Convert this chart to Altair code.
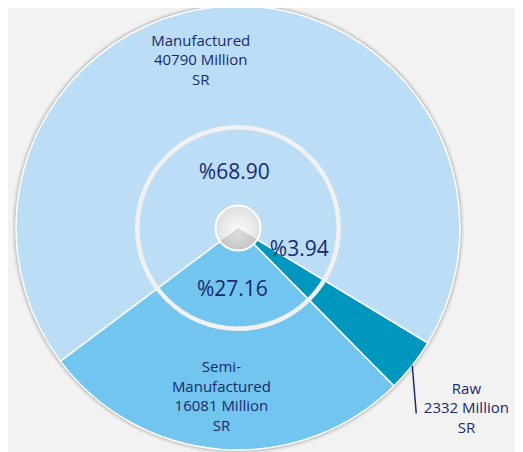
import math
import altair as alt
import pandas as pd

# ---- data ----
categories = ["Raw", "Semi-Manufactured", "Manufactured"]
values = [2332, 16081, 40790]          # Million SR
order_idx = [0, 1, 2]
colors = ["#0097bf", "#72c5ef", "#bbdef6"]

NAVY = "#1a2a6c"
FONT = "Open Sans"
START = math.radians(121.2)
TOTAL = sum(values)

labels = [c.replace("-", "-\n") + f"\n{v} Million\nSR" for c, v in zip(categories, values)]

df = pd.DataFrame({"category": categories, "value": values, "idx": order_idx, "label": labels})

theta_scale = alt.Scale(domain=[0, TOTAL], range=[START, START + 2 * math.pi], nice=False, zero=False)

base = (
    alt.Chart(df)
    .transform_joinaggregate(total="sum(value)")
    .transform_window(c1="sum(value)", sort=[alt.SortField("idx")], frame=[None, 0])
    .transform_calculate(
        c0="datum.c1 - datum.value",
        cm="datum.c1 - datum.value / 2",
        pct="'%' + format(datum.value / datum.total * 100, '.2f')",
    )
)

one = alt.Data(values=[{"k": 1}])
FULL = 2 * math.pi

shadow1 = alt.Chart(one).mark_arc(theta=0, theta2=FULL, radius=226).encode(color=alt.value("#e3e3e3"))
shadow2 = alt.Chart(one).mark_arc(theta=0, theta2=FULL, radius=224).encode(color=alt.value("#c9c9c9"))

slices = base.mark_arc(radius=222, stroke="white", strokeWidth=1.5).encode(
    theta=alt.Theta("c0:Q", scale=theta_scale, stack=None),
    theta2="c1:Q",
    color=alt.Color("category:N", scale=alt.Scale(domain=categories, range=colors), legend=None),
)

ring = alt.Chart(one).mark_arc(theta=0, theta2=FULL, radius=103, radius2=98.5).encode(color=alt.value("#f1f1f1"))

hub = alt.Chart(one).mark_arc(
    theta=0, theta2=FULL, radius=22.5, stroke="white", strokeWidth=2,
    fill=alt.RadialGradient(
        gradient="radial",
        stops=[alt.GradientStop(offset=0, color="#ffffff"), alt.GradientStop(offset=1, color="#d9d9d9")],
        x1=0.5, y1=0.65, r1=0, x2=0.5, y2=0.5, r2=0.6,
    ),
).encode(opacity=alt.value(1))

hub_shade = base.transform_filter(alt.datum.category != "Manufactured").mark_arc(
    radius=21.5, color="#6f6f6f", opacity=0.25
).encode(
    theta=alt.Theta("c0:Q", scale=theta_scale, stack=None),
    theta2="c1:Q",
)

LH = 19.5


def txt(cat, field, r, size, dx=0, dy=0, lines=1):
    return base.transform_filter(alt.datum.category == cat).mark_text(
        radius=r, dx=dx, dy=dy - (lines - 1) * LH / 2, font=FONT, fontSize=size, color=NAVY,
        align="center", baseline="middle", lineBreak="\n", lineHeight=LH,
    ).encode(
        theta=alt.Theta("cm:Q", scale=theta_scale, stack=None),
        text=f"{field}:N",
    )


t_man = txt("Manufactured", "label", 168, 15, dx=-29, lines=3)
t_semi = txt("Semi-Manufactured", "label", 169, 15, dx=-4, lines=4)
t_raw = txt("Raw", "label", 291, 15, lines=3)
p_man = txt("Manufactured", "pct", 55, 21, dx=-1)
p_semi = txt("Semi-Manufactured", "pct", 62, 21, dx=-1)
p_raw = txt("Raw", "pct", 64, 21, dx=11, dy=-18)

leader = (
    base.transform_filter(alt.datum.category == "Raw")
    .transform_calculate(ang=f"{START} + 2 * PI * datum.cm / datum.total")
    .transform_calculate(lx="222 * sin(datum.ang)", ly="222 * cos(datum.ang)")
    .transform_calculate(lx2="datum.lx + 4", ly2="datum.ly - 48")
    .mark_rule(color=NAVY, strokeWidth=1.5)
    .encode(
        x=alt.X("lx:Q", scale=alt.Scale(domain=[-230, 230], nice=False, zero=False), axis=None),
        y=alt.Y("ly:Q", scale=alt.Scale(domain=[-216, 216], nice=False, zero=False), axis=None),
        x2="lx2:Q",
        y2="ly2:Q",
    )
)

chart = (
    alt.layer(shadow1, shadow2, slices, ring, hub, hub_shade,
              t_man, t_semi, t_raw, p_man, p_semi, p_raw, leader)
    .properties(width=460, height=432, autosize=alt.AutoSizeParams(type="none"),
                padding={"left": 0, "top": 4, "right": 47, "bottom": 8})
    .configure(background="#f2f2f2")
    .configure_view(stroke=None)
)

chart.save("out.html", embed_options={"renderer": "svg", "actions": False})
